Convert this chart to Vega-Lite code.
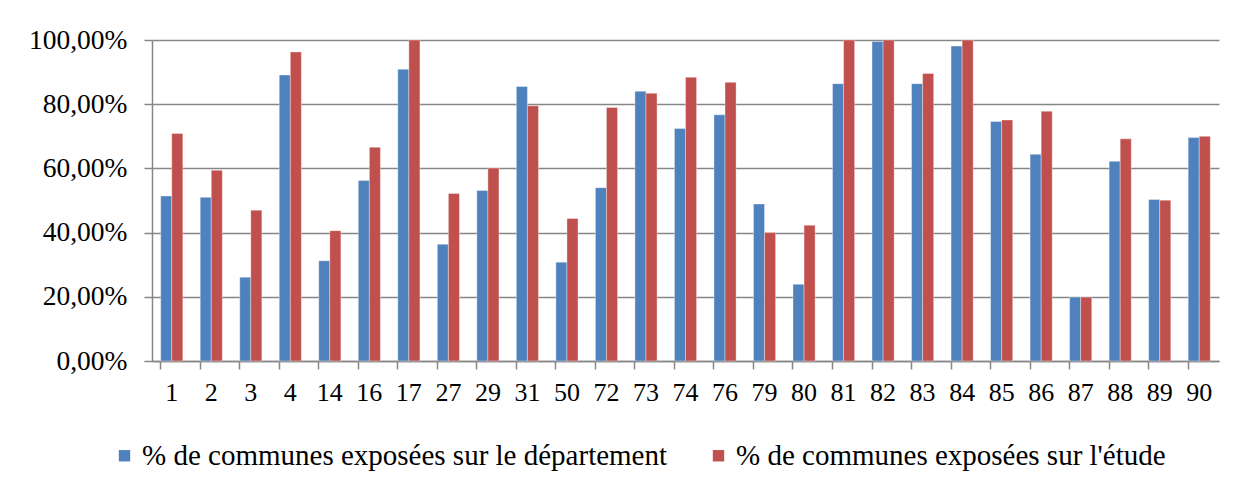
{
  "$schema": "https://vega.github.io/schema/vega-lite/v6.json",
  "width": 1067,
  "height": 321,
  "autosize": {"type": "none"},
  "padding": {"left": 152, "top": 40, "right": 34, "bottom": 136},
  "background": "white",
  "config": {
    "locale": {"number": {"decimal": ",", "thousands": " ", "grouping": [3], "currency": ["", " €"]}},
    "view": {"stroke": null},
    "font": "Liberation Serif",
    "axis": {"labelFont": "Liberation Serif"},
    "legend": {"labelFont": "Liberation Serif"}
  },
  "data": {
    "values": [
      {"dep": "1", "serie": "% de communes exposées sur le département", "valeur": 0.514},
      {"dep": "1", "serie": "% de communes exposées sur l'étude", "valeur": 0.709},
      {"dep": "2", "serie": "% de communes exposées sur le département", "valeur": 0.510},
      {"dep": "2", "serie": "% de communes exposées sur l'étude", "valeur": 0.594},
      {"dep": "3", "serie": "% de communes exposées sur le département", "valeur": 0.261},
      {"dep": "3", "serie": "% de communes exposées sur l'étude", "valeur": 0.470},
      {"dep": "4", "serie": "% de communes exposées sur le département", "valeur": 0.891},
      {"dep": "4", "serie": "% de communes exposées sur l'étude", "valeur": 0.963},
      {"dep": "14", "serie": "% de communes exposées sur le département", "valeur": 0.312},
      {"dep": "14", "serie": "% de communes exposées sur l'étude", "valeur": 0.406},
      {"dep": "16", "serie": "% de communes exposées sur le département", "valeur": 0.562},
      {"dep": "16", "serie": "% de communes exposées sur l'étude", "valeur": 0.666},
      {"dep": "17", "serie": "% de communes exposées sur le département", "valeur": 0.909},
      {"dep": "17", "serie": "% de communes exposées sur l'étude", "valeur": 1.0},
      {"dep": "27", "serie": "% de communes exposées sur le département", "valeur": 0.364},
      {"dep": "27", "serie": "% de communes exposées sur l'étude", "valeur": 0.522},
      {"dep": "29", "serie": "% de communes exposées sur le département", "valeur": 0.531},
      {"dep": "29", "serie": "% de communes exposées sur l'étude", "valeur": 0.601},
      {"dep": "31", "serie": "% de communes exposées sur le département", "valeur": 0.855},
      {"dep": "31", "serie": "% de communes exposées sur l'étude", "valeur": 0.795},
      {"dep": "50", "serie": "% de communes exposées sur le département", "valeur": 0.308},
      {"dep": "50", "serie": "% de communes exposées sur l'étude", "valeur": 0.444},
      {"dep": "72", "serie": "% de communes exposées sur le département", "valeur": 0.540},
      {"dep": "72", "serie": "% de communes exposées sur l'étude", "valeur": 0.790},
      {"dep": "73", "serie": "% de communes exposées sur le département", "valeur": 0.840},
      {"dep": "73", "serie": "% de communes exposées sur l'étude", "valeur": 0.834},
      {"dep": "74", "serie": "% de communes exposées sur le département", "valeur": 0.724},
      {"dep": "74", "serie": "% de communes exposées sur l'étude", "valeur": 0.884},
      {"dep": "76", "serie": "% de communes exposées sur le département", "valeur": 0.767},
      {"dep": "76", "serie": "% de communes exposées sur l'étude", "valeur": 0.868},
      {"dep": "79", "serie": "% de communes exposées sur le département", "valeur": 0.489},
      {"dep": "79", "serie": "% de communes exposées sur l'étude", "valeur": 0.400},
      {"dep": "80", "serie": "% de communes exposées sur le département", "valeur": 0.239},
      {"dep": "80", "serie": "% de communes exposées sur l'étude", "valeur": 0.423},
      {"dep": "81", "serie": "% de communes exposées sur le département", "valeur": 0.864},
      {"dep": "81", "serie": "% de communes exposées sur l'étude", "valeur": 1.0},
      {"dep": "82", "serie": "% de communes exposées sur le département", "valeur": 0.995},
      {"dep": "82", "serie": "% de communes exposées sur l'étude", "valeur": 1.0},
      {"dep": "83", "serie": "% de communes exposées sur le département", "valeur": 0.864},
      {"dep": "83", "serie": "% de communes exposées sur l'étude", "valeur": 0.896},
      {"dep": "84", "serie": "% de communes exposées sur le département", "valeur": 0.981},
      {"dep": "84", "serie": "% de communes exposées sur l'étude", "valeur": 1.0},
      {"dep": "85", "serie": "% de communes exposées sur le département", "valeur": 0.746},
      {"dep": "85", "serie": "% de communes exposées sur l'étude", "valeur": 0.751},
      {"dep": "86", "serie": "% de communes exposées sur le département", "valeur": 0.644},
      {"dep": "86", "serie": "% de communes exposées sur l'étude", "valeur": 0.778},
      {"dep": "87", "serie": "% de communes exposées sur le département", "valeur": 0.199},
      {"dep": "87", "serie": "% de communes exposées sur l'étude", "valeur": 0.199},
      {"dep": "88", "serie": "% de communes exposées sur le département", "valeur": 0.622},
      {"dep": "88", "serie": "% de communes exposées sur l'étude", "valeur": 0.692},
      {"dep": "89", "serie": "% de communes exposées sur le département", "valeur": 0.503},
      {"dep": "89", "serie": "% de communes exposées sur l'étude", "valeur": 0.501},
      {"dep": "90", "serie": "% de communes exposées sur le département", "valeur": 0.696},
      {"dep": "90", "serie": "% de communes exposées sur l'étude", "valeur": 0.700}
    ]
  },
  "mark": {"type": "bar", "stroke": "#ffffff", "strokeOpacity": 0.45, "strokeWidth": 0.8},
  "encoding": {
    "x": {
      "field": "dep",
      "type": "nominal",
      "sort": ["1","2","3","4","14","16","17","27","29","31","50","72","73","74","76","79","80","81","82","83","84","85","86","87","88","89","90"],
      "scale": {"paddingInner": 0.44, "paddingOuter": 0.22},
      "axis": {
        "title": null,
        "labelAngle": 0,
        "bandPosition": 0,
        "labelFont": "Liberation Serif",
        "labelFontSize": 26,
        "labelColor": "#000000",
        "labelPadding": 10,
        "tickSize": 8,
        "tickColor": "#868686",
        "tickWidth": 1.5,
        "domainColor": "#868686",
        "domainWidth": 1.5,
        "grid": false
      }
    },
    "xOffset": {
      "field": "serie",
      "sort": ["% de communes exposées sur le département", "% de communes exposées sur l'étude"]
    },
    "y": {
      "field": "valeur",
      "type": "quantitative",
      "scale": {"domain": [0, 1], "nice": false},
      "axis": {
        "title": null,
        "format": ".2%",
        "values": [0, 0.2, 0.4, 0.6, 0.8, 1],
        "labelFont": "Liberation Serif",
        "labelFontSize": 27.5,
        "labelColor": "#000000",
        "labelPadding": 17,
        "tickSize": 8,
        "tickColor": "#868686",
        "tickWidth": 1.5,
        "domainColor": "#868686",
        "domainWidth": 1.5,
        "gridColor": "#868686",
        "gridWidth": 1.5
      }
    },
    "color": {
      "field": "serie",
      "type": "nominal",
      "scale": {
        "domain": ["% de communes exposées sur le département", "% de communes exposées sur l'étude"],
        "range": ["#4F81BD", "#C0504D"]
      },
      "legend": {
        "title": null,
        "orient": "none",
        "legendX": -42,
        "legendY": 401,
        "direction": "horizontal",
        "symbolType": "square",
        "symbolSize": 130,
        "symbolStrokeWidth": 0,
        "labelFont": "Liberation Serif",
        "labelFontSize": 29,
        "labelColor": "#000000",
        "labelLimit": 0,
        "labelOffset": 3,
        "columnPadding": 36
      }
    }
  }
}
